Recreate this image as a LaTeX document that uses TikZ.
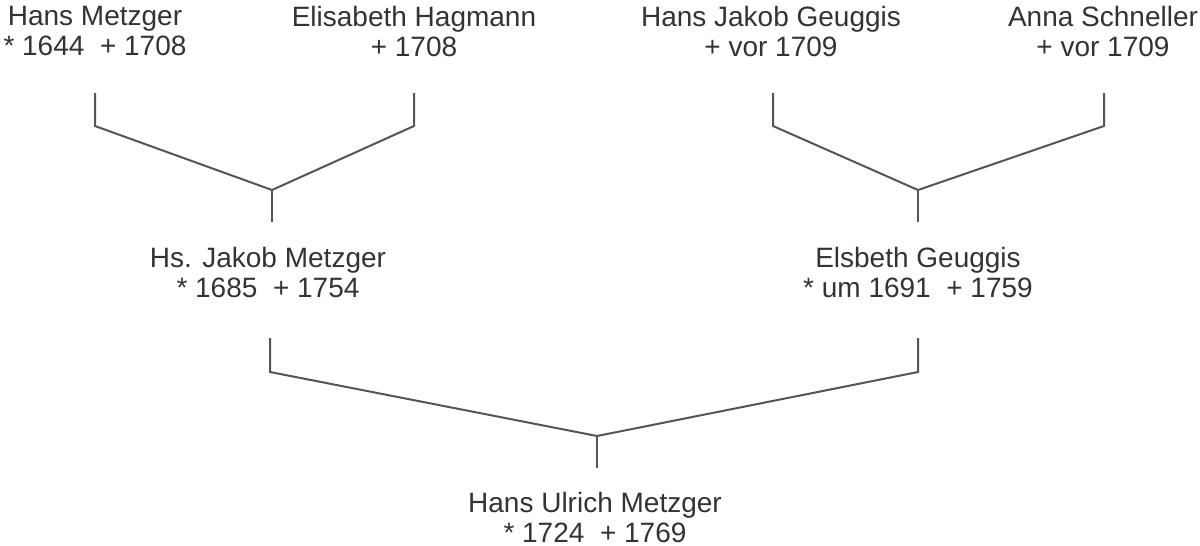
\documentclass[tikz,border=0pt]{standalone}
\usepackage{fontspec}
\setmainfont{Liberation Sans}
\begin{document}
\begin{tikzpicture}[x=1pt,y=-1pt,
  person/.style={anchor=north,inner sep=0pt,align=center,text=txt,
    font={\fontsize{28}{30}\selectfont}},
  conn/.style={draw=ln,line width=2pt,line join=miter}]
\definecolor{txt}{HTML}{333333}
\definecolor{ln}{HTML}{555555}
\useasboundingbox (0,0) rectangle (1200,546);
% persons
\node[person] (hm) at (95,6) {Hans Metzger\\* 1644~~+ 1708};
\node[person] (eh) at (414,6) {Elisabeth Hagmann\\+ 1708};
\node[person] (hjg) at (771,6) {Hans Jakob Geuggis\\+ vor 1709};
\node[person] (as) at (1103,6) {Anna Schneller\\+ vor 1709};
\node[person] (hjm) at (268,247) {Hs. Jakob Metzger\\* 1685~~+ 1754};
\node[person] (eg) at (918,247) {Elsbeth Geuggis\\* um 1691~~+ 1759};
\node[person] (hum) at (595,492) {Hans Ulrich Metzger\\* 1724~~+ 1769};
% helper coordinates
\coordinate (ta) at (0,93);
\coordinate (ka) at (0,126);
\coordinate (m1) at (272,190);
\coordinate (m2) at (918,190);
\coordinate (sa) at (0,222);
\coordinate (tb) at (0,338);
\coordinate (kb) at (0,372);
\coordinate (m3) at (597,436);
\coordinate (sb) at (0,468);
% connectors
\draw[conn] (hm |- ta) -- (hm |- ka) -- (m1) -- (eh |- ka) -- (eh |- ta);
\draw[conn] (m1) -- (m1 |- sa);
\draw[conn] ([xshift=2pt]hjg |- ta) -- ([xshift=2pt]hjg |- ka) -- (m2) -- ([xshift=1pt]as |- ka) -- ([xshift=1pt]as |- ta);
\draw[conn] (m2) -- (m2 |- sa);
\draw[conn] ([xshift=2pt]hjm |- tb) -- ([xshift=2pt]hjm |- kb) -- (m3) -- (eg |- kb) -- (eg |- tb);
\draw[conn] (m3) -- (m3 |- sb);
\end{tikzpicture}
\end{document}
